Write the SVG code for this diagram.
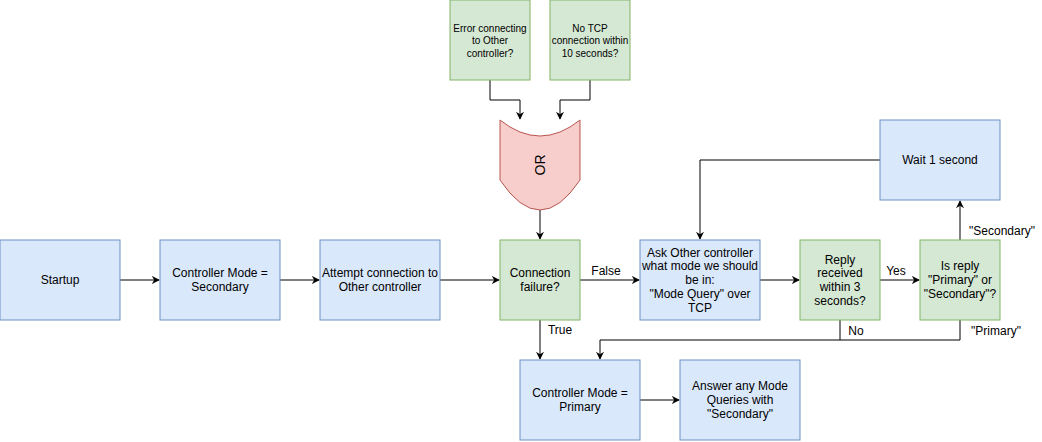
<svg xmlns="http://www.w3.org/2000/svg" width="1042" height="442" viewBox="0 0 1042 442">
<style>
.b{fill:#dae8fc;stroke:#6c8ebf;stroke-width:1}
.g{fill:#d5e8d4;stroke:#82b366;stroke-width:1}
.r{fill:#f8cecc;stroke:#b85450;stroke-width:1}
text{font-family:"Liberation Sans",Arial,Helvetica,sans-serif;font-size:12px;fill:#000;text-anchor:middle}
.s{font-size:10px}
.e{fill:none;stroke:#000;stroke-width:1;marker-end:url(#ah)}
.l{fill:none;stroke:#000;stroke-width:1}
</style>
<defs>
<marker id="ah" viewBox="0 0 10 10" refX="9" refY="5" markerWidth="8" markerHeight="8" markerUnits="userSpaceOnUse" orient="auto">
<path d="M0,0 L10,5 L0,10 L3,5 Z" fill="#000"/>
</marker>
</defs>
<rect width="1042" height="442" fill="#fff"/>
<g id="connectors">
<path class="e" d="M490,80 V100 H520 V119"/>
<path class="e" d="M590,80 V100 H560 V119"/>
<path class="e" d="M540,210 V239"/>
<path class="e" d="M120,280 H159"/>
<path class="e" d="M280,280 H319"/>
<path class="e" d="M440,280 H499"/>
<path class="e" d="M580,280 H639"/>
<path class="e" d="M540,320 V359"/>
<path class="e" d="M760,280 H799"/>
<path class="e" d="M880,280 H919"/>
<path class="e" d="M960,240 V201"/>
<path class="e" d="M880,160 H700 V239"/>
<path class="e" d="M960,320 V340 H600 V359"/>
<path class="l" d="M840,320 V340"/>
<path class="e" d="M640,400 H679"/>
<text x="606" y="275">False</text>
<text x="560" y="334">True</text>
<text x="896" y="275">Yes</text>
<text x="1002" y="235">"Secondary"</text>
<text x="996" y="335">"Primary"</text>
<text x="856" y="335">No</text>
</g>
<g id="n-error"><rect class="g" x="450" y="0" width="80" height="80"/>
<text class="s" x="490" y="32">Error connecting</text><text class="s" x="490" y="44">to Other</text><text class="s" x="490" y="57">controller?</text></g>
<g id="n-notcp"><rect class="g" x="550" y="0" width="80" height="80"/>
<text class="s" x="590" y="32">No TCP</text><text class="s" x="590" y="44">connection within</text><text class="s" x="590" y="57">10 seconds?</text></g>
<g id="n-or"><path class="r" d="M500,120 Q540,152 580,120 V180 Q540,240 500,180 Z"/>
<text x="0" y="0" transform="translate(545,165) rotate(-90)" style="font-size:14px">OR</text></g>
<g id="n-startup"><rect class="b" x="0" y="240" width="120" height="80"/><text x="60" y="284">Startup</text></g>
<g id="n-secondary"><rect class="b" x="160" y="240" width="120" height="80"/><text x="220" y="277">Controller Mode =</text><text x="220" y="291">Secondary</text></g>
<g id="n-attempt"><rect class="b" x="320" y="240" width="120" height="80"/><text x="380" y="277">Attempt connection to</text><text x="380" y="291">Other controller</text></g>
<g id="n-failure"><rect class="g" x="500" y="240" width="80" height="80"/><text x="540" y="277">Connection</text><text x="540" y="291">failure?</text></g>
<g id="n-ask"><rect class="b" x="640" y="240" width="120" height="80"/>
<text x="700" y="257">Ask Other controller</text><text x="700" y="270">what mode we should</text><text x="700" y="284">be in:</text><text x="700" y="298">"Mode Query" over</text><text x="700" y="312">TCP</text></g>
<g id="n-reply"><rect class="g" x="800" y="240" width="80" height="80"/>
<text x="840" y="264">Reply</text><text x="840" y="277">received</text><text x="840" y="291">within 3</text><text x="840" y="305">seconds?</text></g>
<g id="n-isreply"><rect class="g" x="920" y="240" width="80" height="80"/>
<text x="960" y="270">Is reply</text><text x="960" y="284">"Primary" or</text><text x="960" y="298">"Secondary"?</text></g>
<g id="n-wait"><rect class="b" x="880" y="120" width="120" height="80"/><text x="940" y="164">Wait 1 second</text></g>
<g id="n-primary"><rect class="b" x="520" y="360" width="120" height="80"/><text x="580" y="397">Controller Mode =</text><text x="580" y="411">Primary</text></g>
<g id="n-answer"><rect class="b" x="680" y="360" width="120" height="80"/><text x="740" y="390">Answer any Mode</text><text x="740" y="404">Queries with</text><text x="740" y="418">"Secondary"</text></g>
</svg>
